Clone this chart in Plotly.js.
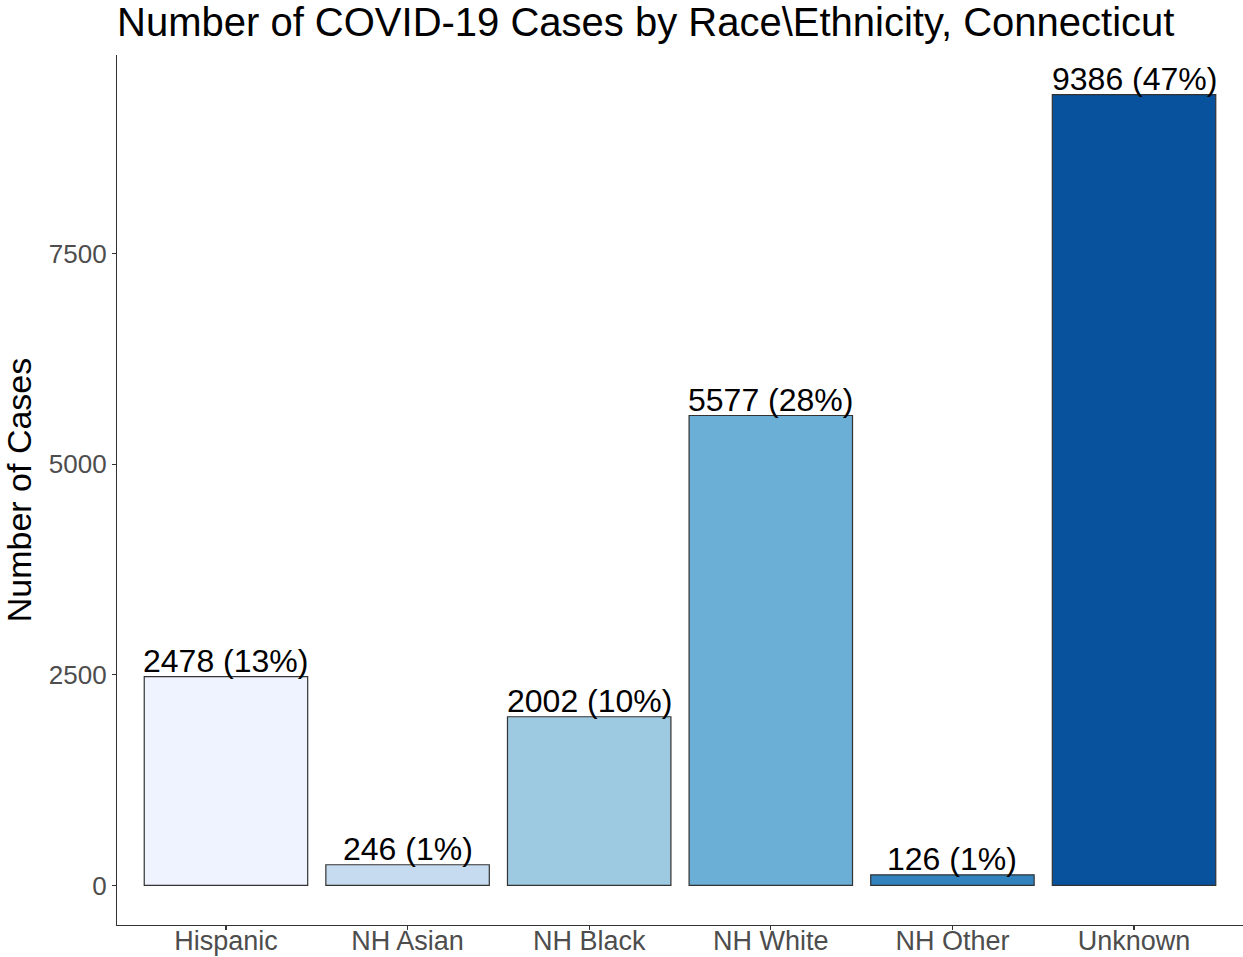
<!DOCTYPE html>
<html>
<head>
<meta charset="utf-8">
<script src="https://cdn.plot.ly/plotly-3.0.1.min.js"></script>
<style>html,body{margin:0;padding:0;background:#fff;}#chart{width:1243px;height:957px;}</style>
</head>
<body>
<div id="chart"></div>
<script>
const categories = ["Hispanic", "NH Asian", "NH Black", "NH White", "NH Other", "Unknown"];
const cases = [2478, 246, 2002, 5577, 126, 9386];
const percents = [13, 1, 10, 28, 1, 47];
const barColors = ["#EFF3FF", "#C6DBEF", "#9ECAE1", "#6BAED6", "#3182BD", "#08519C"];
const yTicks = [0, 2500, 5000, 7500];

const font = "Liberation Sans, Arial, sans-serif";
const ymax = Math.max(...cases);
const pad = ymax * 0.05;

const trace = {
  type: "bar",
  x: categories,
  y: cases,
  width: 0.9,
  marker: { color: barColors, line: { color: "#333333", width: 1.2 } },
  hoverinfo: "x+y",
  showlegend: false
};

const annotations = categories.map((c, i) => ({
  x: c, y: cases[i], xref: "x", yref: "y",
  text: cases[i] + " (" + percents[i] + "%)",
  showarrow: false, yanchor: "bottom", xanchor: "center",
  yshift: -4,
  font: { family: font, size: 32, color: "#000000" }
}));

const layout = {
  width: 1243, height: 957,
  paper_bgcolor: "#ffffff", plot_bgcolor: "#ffffff",
  margin: { l: 117, r: 0, t: 55, b: 32 },
  title: {
    text: "Number of COVID-19 Cases by Race\\Ethnicity, Connecticut",
    font: { family: font, size: 40, color: "#000000" },
    x: 117 / 1243, xanchor: "left", xref: "container",
    y: 1 - 36 / 957, yanchor: "bottom", yref: "container", pad: { b: 0 }
  },
  xaxis: {
    type: "category",
    range: [-0.6, categories.length - 0.4],
    showline: true, linecolor: "#333333", linewidth: 1.2,
    ticks: "outside", ticklen: 4, tickcolor: "#333333", tickwidth: 1.2,
    ticklabelstandoff: -13,
    showgrid: false, zeroline: false,
    tickfont: { family: font, size: 27, color: "#4D4D4D" }
  },
  yaxis: {
    range: [-pad, ymax + pad],
    tickvals: yTicks, ticktext: yTicks.map(String),
    showline: true, linecolor: "#333333", linewidth: 1.2,
    ticks: "outside", ticklen: 4, tickcolor: "#333333", tickwidth: 1.2,
    showgrid: false, zeroline: false,
    tickfont: { family: font, size: 26, color: "#4D4D4D" },
    title: { text: "Number of Cases", font: { family: font, size: 34, color: "#000000" }, standoff: 8 }
  },
  annotations: annotations,
  bargap: 0.1
};

Plotly.newPlot("chart", [trace], layout, { displayModeBar: false, staticPlot: true });
</script>
</body>
</html>
